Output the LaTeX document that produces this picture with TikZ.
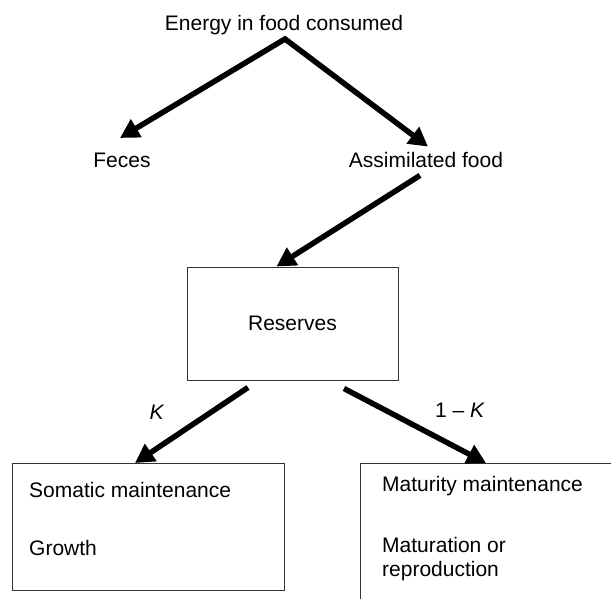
\documentclass[tikz,border=0pt]{standalone}
\usepackage{fontspec}
\setmainfont{Liberation Sans}
\usetikzlibrary{arrows.meta,calc}
\begin{document}
\begin{tikzpicture}[x=1pt,y=1pt,
    >={Triangle[length=19pt,width=20pt]},
    every node/.style={font=\fontsize{21}{24}\selectfont, inner sep=0pt},
    flow/.style={line width=5.5pt, ->},
    box/.style={draw=black!80, line width=1pt, rectangle}]
    \useasboundingbox (0,0) rectangle (611,-598);
    % texts and boxes
    \node (energy) at (284,-25) {Energy in food consumed};
    \node (feces) at (122,-160) {Feces};
    \node (assim) at (426,-160) {Assimilated food};
    \node[box, minimum width=211pt, minimum height=113pt] (reserves) at (292.5,-323.5) {Reserves};
    \node[box, anchor=north west, minimum width=272pt, minimum height=127pt] (somabox) at (12,-463) {};
    \node[box, anchor=north west, minimum width=400pt, minimum height=250pt] (matubox) at (360,-463) {};
    \node[anchor=west] (somatic) at ($(somabox.north west)+(17,-27)$) {Somatic maintenance};
    \node[anchor=west] (growth) at ($(somabox.north west)+(17,-85)$) {Growth};
    \node[anchor=west] (maturity) at ($(matubox.north west)+(22,-23)$) {Maturity maintenance};
    \node[anchor=west, align=left] (maturation) at ($(matubox.north west)+(22,-96)$) {Maturation or\\reproduction};
    \node (klabel) at (157,-412) {\textit{K}};
    \node (oneminusk) at (460,-410) {1 -- \textit{K}};
    % arrows
    \coordinate (split) at ($(energy.south)+(1,-4)$);
    \draw[line width=5.5pt, <->] ($(feces.north)+(-2,14.5)$) -- (split) -- ($(assim.north)+(2,5.5)$);
    \draw[flow] ($(assim.south)+(-6,-7.5)$) -- ($(reserves.north west)+(90,0)$);
    \draw[flow] ($(reserves.south)+(-44.5,-7)$) -- ($(somabox.north west)+(123,0)$);
    \draw[flow] ($(reserves.south)+(51.5,-8)$) -- ($(matubox.north west)+(126,0)$);
\end{tikzpicture}
\end{document}
